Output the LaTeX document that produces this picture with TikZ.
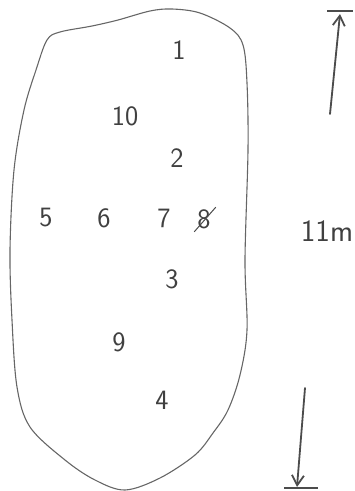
\documentclass[tikz,border=0pt]{standalone}
\usepackage{tikz}
\usetikzlibrary{arrows.meta, positioning}

\begin{document}
\begin{tikzpicture}[x=1pt, y=-1pt, >=Stealth,
  every node/.style={inner sep=0pt, font=\fontsize{28}{30}\selectfont\sffamily, text=black!75},
  outline/.style={draw=black!60, line width=1.1pt},
  sizearrow/.style={draw=black!70, line width=1.8pt, line cap=round, -{Straight Barb[length=10pt, width=12pt]}},
  endbar/.style={draw=black!70, line width=1.2pt}]
\useasboundingbox (0,0) rectangle (355,491);
% outline of the plot
\draw[outline] plot[smooth cycle, tension=0.55] coordinates {
  (47,40) (60,32) (92,26) (118,20) (150,11) (172,9) (200,13) (230,28)
  (243,45) (247,83) (248,150) (245,260) (247,330) (240,375) (228,410)
  (213,433) (195,455) (160,478) (125,490) (95,480) (65,460) (30,427)
  (17,387) (12,320) (10,250) (14,170) (24,110) (36,70)};
% numbered spots
\node (n1) at (179,50) {1};
\node (n10) at (125,116) {10};
\node (n2) at (177,158) {2};
\node (n5) at (46,218) {5};
\node (n6) at (104,218) {6};
\node (n7) at (164,218) {7};
\node (n8) at (204,219) {8};
\node (n3) at (172,279) {3};
\node (n9) at (119,342) {9};
\node (n4) at (162,400) {4};
\draw[draw=black!70, line width=1pt] ([xshift=-3pt, yshift=-3pt]n8.south west) -- ([xshift=5pt, yshift=2pt]n8.north east);
% length
\node[font=\fontsize{31}{33}\selectfont\sffamily] (len) at (327,231) {11m};
\coordinate (topfoot) at (330,114);
\coordinate (toptip) at (340,14);
\coordinate (botfoot) at (305,388);
\coordinate (bottip) at (297,487);
\draw[sizearrow] (topfoot) -- (toptip);
\draw[sizearrow] (botfoot) -- (bottip);
\draw[endbar] (327,11) -- (353,11);
\draw[endbar] (284,488) -- (318,488);
\end{tikzpicture}
\end{document}
